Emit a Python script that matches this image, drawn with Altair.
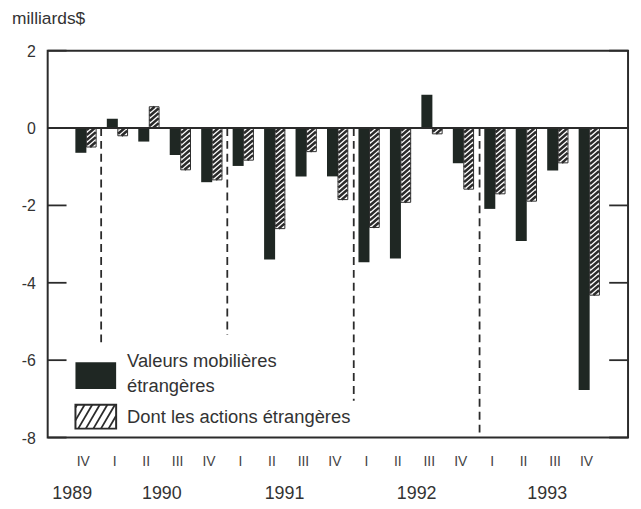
import altair as alt
import pandas as pd

# ---------------- data ----------------
quarters = ["IV", "I", "II", "III", "IV", "I", "II", "III", "IV",
            "I", "II", "III", "IV", "I", "II", "III", "IV"]
valeurs = [-0.64, 0.24, -0.35, -0.70, -1.40, -0.98, -3.40, -1.25, -1.25,
           -3.47, -3.37, 0.86, -0.91, -2.09, -2.92, -1.10, -6.77]
actions = [-0.49, -0.20, 0.55, -1.08, -1.34, -0.83, -2.60, -0.61, -1.85,
           -2.57, -1.92, -0.15, -1.58, -1.70, -1.89, -0.90, -4.32]
years = ["1989", "1990", "1991", "1992", "1993"]
year_pos = [-0.45, 2.4, 6.3, 10.5, 14.65]
y_ticks = [2, 0, -2, -4, -6, -8]
sep_pos = [0.47, 4.48, 8.5, 12.5]
sep_end = [-5.6, -5.35, -7.05, -8.0]

# ---------------- layout / style ----------------
W, H = 585, 390
XDOM = [-1.23, 17.22]
YDOM = [-8.0, 2.0]
DARK_W, HATCH_W = 0.35, 0.31
INK = "#2b2b2b"
BAR = "#1f2723"
FONT = "Liberation Sans"
PX_X = W / (XDOM[1] - XDOM[0])
PX_Y = H / (YDOM[1] - YDOM[0])


def px2x(px):
    return XDOM[0] + px / PX_X


def px2y(py):
    return YDOM[1] - py / PX_Y


def hatch(a, b, lo, hi, m, sp):
    """diagonal '/' segments clipped to the rectangle [a,b]x[lo,hi]"""
    out = []
    c = lo - m * (b - a)
    while c < hi:
        xs_, ys_ = a, c
        if ys_ < lo:
            xs_, ys_ = a + (lo - c) / m, lo
        xe, ye = b, c + m * (b - a)
        if ye > hi:
            xe, ye = a + (hi - c) / m, hi
        if xe > xs_:
            out.append({"x": xs_, "y": ys_, "x2": xe, "y2": ye})
        c += sp
    return out


xs = alt.Scale(domain=XDOM, nice=False, zero=False)
ys = alt.Scale(domain=YDOM, nice=False, zero=False)

idx = list(range(len(quarters)))
dark_df = pd.DataFrame({"x0": [i - DARK_W for i in idx], "x1": idx,
                        "v": valeurs, "b": [0.0] * len(idx)})
hat_df = pd.DataFrame({"x0": idx, "x1": [i + HATCH_W for i in idx],
                       "v": actions, "b": [0.0] * len(idx)})

m_bar = 0.86 * PX_X / PX_Y
sp_bar = 5.0 / PX_Y
segs = []
for i, v in zip(idx, actions):
    segs += hatch(i + 0.01, i + HATCH_W - 0.01, min(v, 0), max(v, 0), m_bar, sp_bar)
seg_df = pd.DataFrame(segs)

# legend swatches (plot-pixel layout)
LG_X0, LG_X1 = 28, 69
LG_D = (314, 341)
LG_H = (357, 381)
m_leg = 1.7 * PX_X / PX_Y
sp_leg = 13.0 / PX_Y
leg_segs = pd.DataFrame(hatch(px2x(LG_X0), px2x(LG_X1), px2y(LG_H[1]), px2y(LG_H[0]), m_leg, sp_leg))

sep_df = pd.DataFrame({"x": sep_pos, "y": [0.0] * len(sep_pos), "y2": sep_end})
tick_df = pd.DataFrame({"v": y_ticks, "lab": [str(t) for t in y_ticks]})
q_df = pd.DataFrame({"x": [i - 0.1 for i in idx], "q": quarters})
yr_df = pd.DataFrame({"x": year_pos, "yr": years})
one = pd.DataFrame({"a": [0]})

# ---------------- layers ----------------
seps = alt.Chart(sep_df).mark_rule(color=INK, strokeWidth=1.8, strokeDash=[8, 5]).encode(
    x=alt.X("x:Q", scale=xs, axis=None),
    y=alt.Y("y:Q", scale=ys, axis=None),
    y2="y2:Q",
)

dark = alt.Chart(dark_df).mark_rect(color=BAR).encode(
    x=alt.X("x0:Q", scale=xs, axis=None),
    x2="x1:Q",
    y=alt.Y("v:Q", scale=ys, axis=None),
    y2="b:Q",
)

hat = alt.Chart(hat_df).mark_rect(fill="white", stroke=INK, strokeWidth=1).encode(
    x=alt.X("x0:Q", scale=xs, axis=None),
    x2="x1:Q",
    y=alt.Y("v:Q", scale=ys, axis=None),
    y2="b:Q",
)

hat_lines = alt.Chart(seg_df).mark_rule(color=INK, strokeWidth=2.5).encode(
    x=alt.X("x:Q", scale=xs, axis=None),
    y=alt.Y("y:Q", scale=ys, axis=None),
    x2="x2:Q",
    y2="y2:Q",
)

zero = alt.Chart(one).mark_rule(color=INK, strokeWidth=2.2).encode(
    x=alt.value(0), x2=alt.value(W), y=alt.Y("a:Q", scale=ys, axis=None)
)

lticks = alt.Chart(tick_df).mark_rule(color=INK, strokeWidth=1.8).encode(
    x=alt.value(0), x2=alt.value(19), y=alt.Y("v:Q", scale=ys, axis=None)
)
rticks = alt.Chart(tick_df).mark_rule(color=INK, strokeWidth=1.8).encode(
    x=alt.value(W - 19), x2=alt.value(W), y=alt.Y("v:Q", scale=ys, axis=None)
)
ylabs = alt.Chart(tick_df).mark_text(
    align="right", baseline="middle", font=FONT, fontSize=16, color="#333", dy=1
).encode(x=alt.value(-12), y=alt.Y("v:Q", scale=ys, axis=None), text="lab:N")

leg_dark = alt.Chart(one).mark_rect(color=BAR).encode(
    x=alt.value(LG_X0), x2=alt.value(LG_X1), y=alt.value(LG_D[0]), y2=alt.value(LG_D[1])
)
leg_hat = alt.Chart(one).mark_rect(fill="white", stroke=INK, strokeWidth=2).encode(
    x=alt.value(LG_X0), x2=alt.value(LG_X1), y=alt.value(LG_H[0]), y2=alt.value(LG_H[1])
)
leg_lines = alt.Chart(leg_segs).mark_rule(color=INK, strokeWidth=1.8).encode(
    x=alt.X("x:Q", scale=xs, axis=None),
    y=alt.Y("y:Q", scale=ys, axis=None),
    x2="x2:Q",
    y2="y2:Q",
)


def label(txt, x, y, size, align="left", baseline="middle"):
    return alt.Chart(pd.DataFrame({"t": [txt]})).mark_text(
        align=align, baseline=baseline, font=FONT, fontSize=size, color="#333"
    ).encode(x=alt.value(x), y=alt.value(y), text="t:N")


leg_t1 = label("Valeurs mobilières", 80, 313, 18.5)
leg_t2 = label("étrangères", 80, 338, 18.5)
leg_t3 = label("Dont les actions étrangères", 80, 369, 18.5)
unit = label("milliards$", -36, -27, 17.5, baseline="alphabetic")

qlabels = alt.Chart(q_df).mark_text(
    baseline="middle", font=FONT, fontSize=14, color="#444"
).encode(x=alt.X("x:Q", scale=xs, axis=None), y=alt.value(H + 25), text="q:N")

ylabels = alt.Chart(yr_df).mark_text(
    baseline="middle", font=FONT, fontSize=18, color="#333"
).encode(x=alt.X("x:Q", scale=xs, axis=None), y=alt.value(H + 57), text="yr:N")

chart = alt.layer(
    seps, dark, hat, hat_lines, zero, lticks, rticks, ylabs,
    leg_dark, leg_hat, leg_lines, leg_t1, leg_t2, leg_t3, unit, qlabels, ylabels
).properties(
    width=W, height=H,
    autosize=alt.AutoSizeParams(type="none"),
    padding={"left": 40, "top": 41, "right": 5, "bottom": 66},
    background="white",
).configure_view(stroke=INK, strokeWidth=2)

chart.save("out.html", embed_options={"renderer": "svg", "actions": False})
